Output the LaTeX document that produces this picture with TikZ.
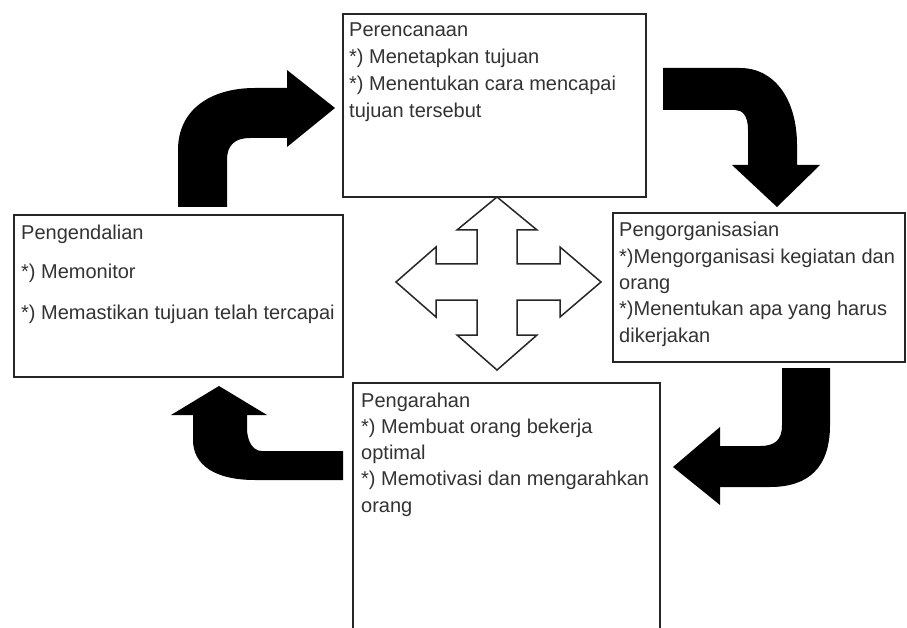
\documentclass[tikz,border=0pt]{standalone}
\usepackage{fontspec}
\setmainfont{Liberation Sans}
\begin{document}
\begin{tikzpicture}[x=1pt,y=-1pt,
  box/.style={draw=black!85,line width=1.8pt},
  boxtext/.style={anchor=base west,align=left,inner sep=0pt,text=black!80},
  bigarrow/.style={fill=black,draw=none},
  crossarrow/.style={draw=black!85,line width=1.5pt,fill=white,line join=miter}]
\useasboundingbox (0,0) rectangle (907,628);
\fill[white] (0,0) rectangle (907,628);

% boxes
\draw[box] (343,14) rectangle (646,197);
\draw[box] (14,215) rectangle (343,377);
\draw[box] (613,213) rectangle (905,362);
\draw[box] (353,640) -- (353,383) -- (660,383) -- (660,640);

% texts (anchor = baseline of the last line)
\node[boxtext,font=\fontsize{20}{27}\selectfont] (plan) at (349,118)
 {Perencanaan\\*) Menetapkan tujuan\\*) Menentukan cara mencapai\\tujuan tersebut};
\node[boxtext,font=\fontsize{20}{40}\selectfont] (ctrl) at (21,319)
 {Pengendalian\\*) Memonitor\\*) Memastikan tujuan telah tercapai};
\node[boxtext,font=\fontsize{20}{26.3}\selectfont] (org) at (619,342)
 {Pengorganisasian\\*)Mengorganisasi kegiatan dan\\orang\\*)Menentukan apa yang harus\\dikerjakan};
\node[boxtext,font=\fontsize{20}{26.2}\selectfont] (dir) at (361,512)
 {Pengarahan\\*) Membuat orang bekerja\\optimal\\*) Memotivasi dan mengarahkan\\orang};

% four-way arrow
\draw[crossarrow] (497,197) -- (537,230) -- (517,230) -- (517,264) -- (560,264) -- (560,247)
  -- (601,282) -- (560,317) -- (560,300) -- (517,300) -- (517,335) -- (537,335)
  -- (497,370) -- (457,335) -- (477,335) -- (477,300) -- (436,300) -- (436,317)
  -- (396,282) -- (436,247) -- (436,264) -- (477,264) -- (477,230) -- (457,230) -- cycle;

% arrow 1: Pengendalian -> Perencanaan
\fill[bigarrow] (178,207) -- (178,150) .. controls (178,110) and (210,88) .. (255,88)
  -- (287,88) -- (287,70) -- (335,108) -- (287,147) -- (287,138) -- (250,138)
  .. controls (235,138) and (227,145) .. (227,160) -- (227,207) -- cycle;

% arrow 2: Perencanaan -> Pengorganisasian
\fill[bigarrow] (663,68) -- (740,68) .. controls (775,68) and (797,100) .. (797,145)
  -- (797,165) -- (820,165) -- (777,207) -- (732,165) -- (748,165) -- (748,130)
  .. controls (748,115) and (742,110) .. (735,110) -- (663,110) -- cycle;

% arrow 3: Pengorganisasian -> Pengarahan
\fill[bigarrow] (830,368) -- (830,425) .. controls (830,468) and (808,487) .. (770,487)
  -- (720,487) -- (720,505) -- (673,467) -- (720,427) -- (720,446) -- (760,446)
  .. controls (775,446) and (782,440) .. (782,425) -- (782,368) -- cycle;

% arrow 4: Pengarahan -> Pengendalian
\fill[bigarrow] (343,480) -- (255,480) .. controls (215,480) and (193,465) .. (193,440)
  -- (193,415) -- (171,415) -- (219,386) -- (267,415) -- (247,415) -- (247,428)
  .. controls (247,440) and (252,451) .. (262,451) -- (343,451) -- cycle;
\end{tikzpicture}
\end{document}
